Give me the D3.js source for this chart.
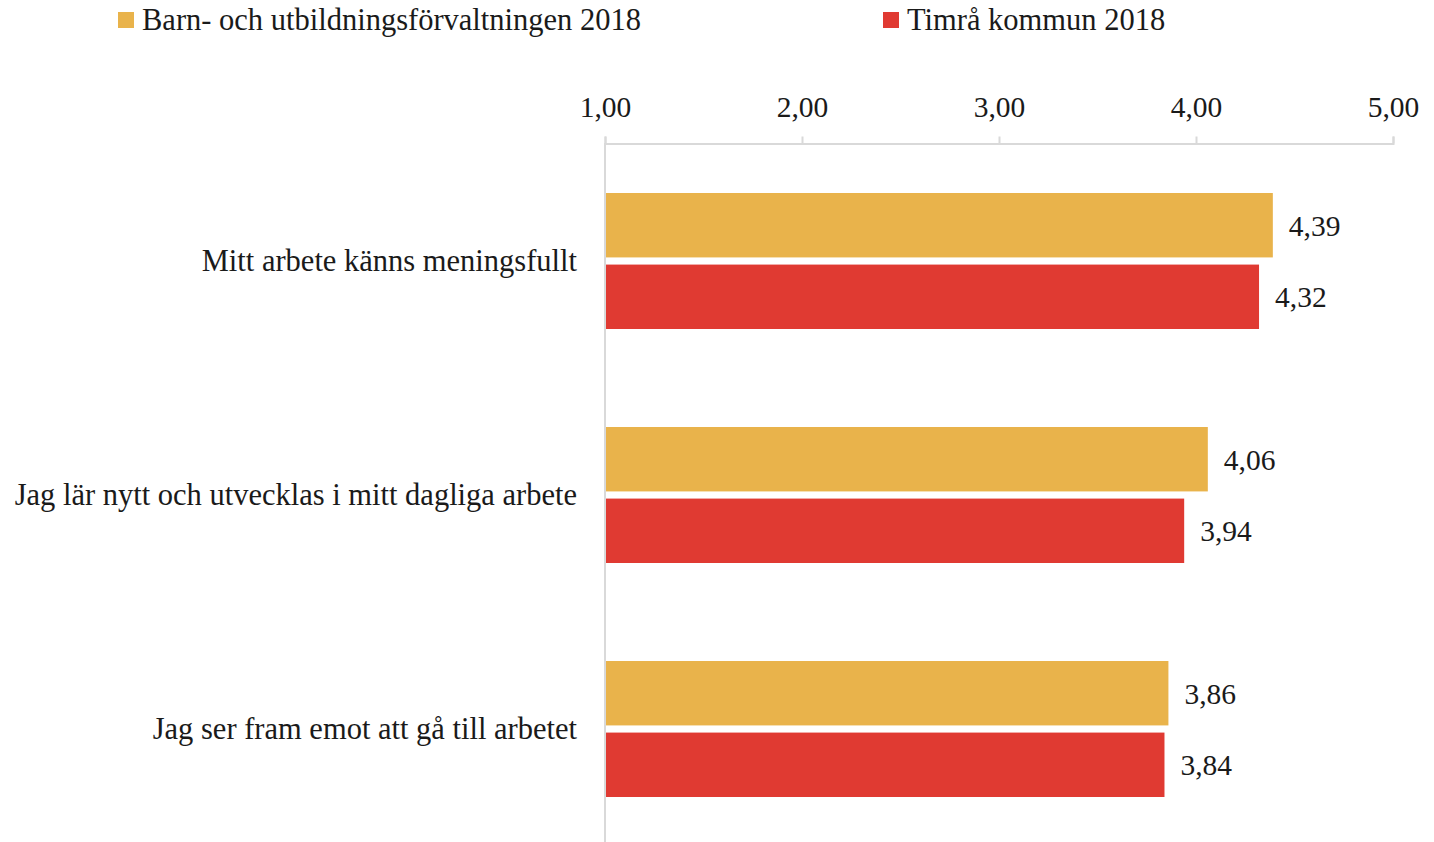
<!DOCTYPE html>
<html><head><meta charset="utf-8">
<script src="https://cdn.jsdelivr.net/npm/d3@7"></script>
<style>body{margin:0;background:#fff}svg{display:block}text{font-family:"Liberation Serif","DejaVu Serif",serif;fill:#1a1a1a}</style>
</head><body>
<script>
const categories = ["Mitt arbete känns meningsfullt","Jag lär nytt och utvecklas i mitt dagliga arbete","Jag ser fram emot att gå till arbetet"];
const seriesNames = ["Barn- och utbildningsförvaltningen 2018","Timrå kommun 2018"];
const barnValues = [4.39,4.06,3.86];
const timraValues = [4.32,3.94,3.84];
const tickValues = [1,2,3,4,5];
const colors = ["#E9B34B","#E03A32"];

const W=1434,H=842;
const svg=d3.select("body").append("svg").attr("width",W).attr("height",H);
const x=d3.scaleLinear().domain([1,5]).range([605,1393]);
const y=d3.scaleBand().domain(categories).range([143,845]).paddingInner(0).paddingOuter(0);
const inner=d3.scaleBand().domain([0,1]).range([50,186]).paddingInner(0.1);
const fs=30.5, fn=29.5;
const fmt=d=>d3.format(".2f")(d).replace(".",",");

// axis
const ax=svg.append("g").attr("transform","translate(0,143.5)").call(d3.axisTop(x).tickValues(tickValues).tickSizeOuter(0).tickSize(7).tickPadding(20).tickFormat(fmt));
ax.select(".domain").attr("stroke","#d9d9d9").attr("stroke-width",2);
ax.selectAll(".tick line").attr("stroke","#d9d9d9").attr("stroke-width",2);
ax.selectAll(".tick text").attr("font-size",fn).attr("font-family","Liberation Serif").attr("fill","#1a1a1a");

svg.append("line").attr("x1",605).attr("x2",605).attr("y1",143).attr("y2",H).attr("stroke","#d9d9d9").attr("stroke-width",2);

const data=categories.map((c,i)=>({c,v:[barnValues[i],timraValues[i]]}));
const g=svg.selectAll(".cat").data(data).join("g").attr("transform",d=>`translate(0,${y(d.c)})`);
g.selectAll("rect").data(d=>d.v).join("rect")
 .attr("x",x(1)+1).attr("y",(d,i)=>inner(i)).attr("height",inner.bandwidth())
 .attr("width",d=>x(d)-x(1)-1).attr("fill",(d,i)=>colors[i]);
g.selectAll(".val").data(d=>d.v).join("text").attr("class","val")
 .attr("x",d=>x(d)+16).attr("y",(d,i)=>inner(i)+inner.bandwidth()/2).attr("dy","0.35em")
 .attr("font-size",fn).text(fmt);
g.append("text").attr("x",577).attr("y",y.bandwidth()/2).attr("dy","0.36em").attr("text-anchor","end")
 .attr("font-size",fs).text(d=>d.c);

// legend
const legX=[118,883];
const lg=svg.selectAll(".leg").data(seriesNames).join("g").attr("transform",(d,i)=>`translate(${legX[i]},0)`);
lg.append("rect").attr("x",0).attr("y",12).attr("width",16).attr("height",16).attr("fill",(d,i)=>colors[i]);
lg.append("text").attr("x",24).attr("y",20).attr("dy","0.34em").attr("font-size",fs).text(d=>d);
</script>
</body></html>
